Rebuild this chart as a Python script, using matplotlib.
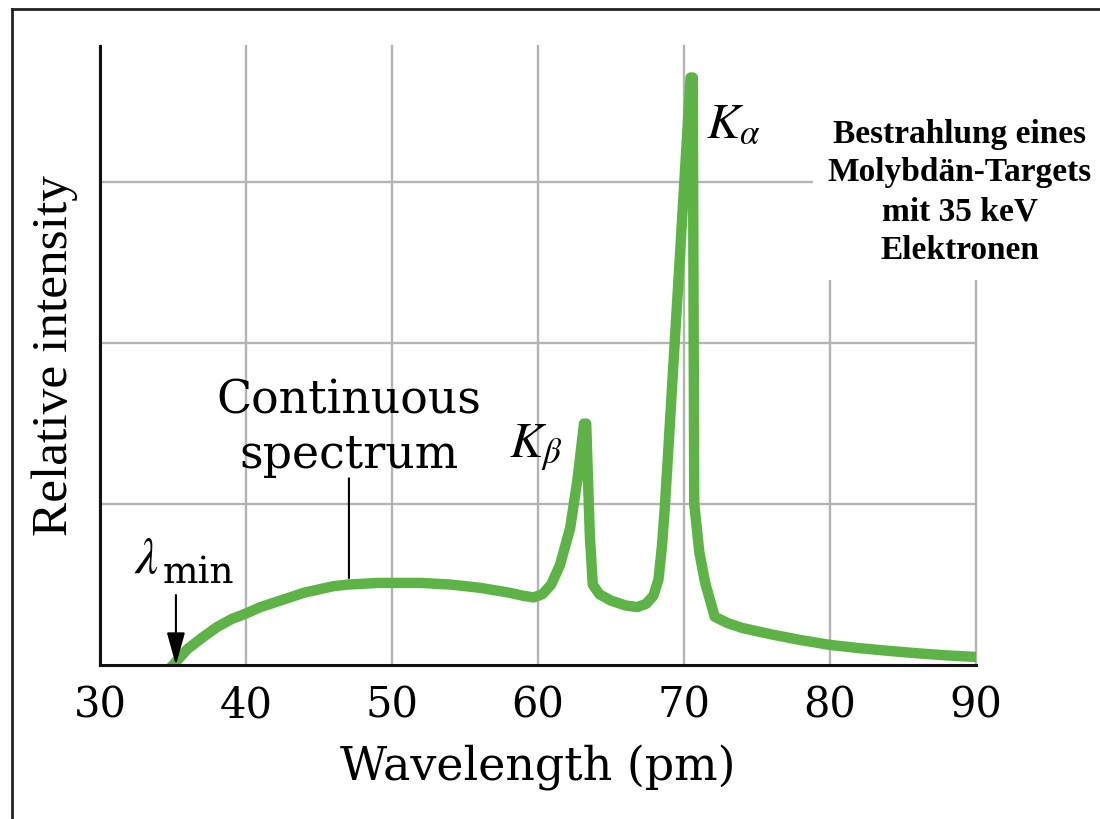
"""
X-ray spectrum of a molybdenum target.

Continuous bremsstrahlung spectrum with the characteristic K-beta and
K-alpha lines, drawn as one thick green curve.
"""

import matplotlib

matplotlib.use("Agg")
import matplotlib.pyplot as plt
from matplotlib.lines import Line2D
from matplotlib.patches import Rectangle

# wavelength in pm, intensity in grid units (gridlines at 1, 2, 3)
wavelength = [35.0, 35.5, 36.0, 37.0, 38.0, 39.0, 40.0, 41.0, 42.0, 43.0,
              44.0, 45.0, 46.0, 47.0, 48.0, 49.0, 50.0, 51.0, 52.0, 53.0,
              54.0, 55.0, 56.0, 57.0, 58.0, 59.0, 59.7, 60.3, 60.9, 61.5,
              62.2, 62.7, 63.15, 63.3, 63.55, 63.75, 64.2, 65.0, 66.0, 66.8,
              67.4, 67.9, 68.25, 68.5, 68.7, 70.45, 70.6, 70.7, 71.05, 71.45,
              72.1, 73.0, 74.0, 75.0, 76.0, 78.0, 80.0, 82.0, 84.0, 86.0,
              88.0, 90.0]
intensity = [0.0, 0.05, 0.10, 0.17, 0.235, 0.285, 0.32, 0.36, 0.39, 0.42,
             0.45, 0.47, 0.49, 0.50, 0.505, 0.51, 0.51, 0.51, 0.51, 0.505,
             0.50, 0.49, 0.48, 0.465, 0.45, 0.43, 0.42, 0.44, 0.50, 0.62,
             0.85, 1.15, 1.50, 1.50, 0.80, 0.50, 0.44, 0.40, 0.37, 0.36,
             0.38, 0.43, 0.53, 0.75, 1.00, 3.65, 3.65, 1.00, 0.70, 0.51,
             0.30, 0.26, 0.23, 0.21, 0.19, 0.155, 0.125, 0.105, 0.088, 0.073,
             0.06, 0.05]

x_ticks = [30, 40, 50, 60, 70, 80, 90]
y_grid = [1, 2, 3]
y_top = 3.845

lambda_min = 35.2
spectrum_pointer = 47.05
note_lines = ["Bestrahlung eines", "Molybdän-Targets", "mit 35 keV", "Elektronen"]

GREEN = "#5db346"
SERIF = "DejaVu Serif"
TIMES = "Liberation Serif"


def generate_spectrum_chart():
    plt.rcParams["mathtext.fontset"] = "stix"
    fig = plt.figure(figsize=(11, 8.19), dpi=100)
    ax = fig.add_axes([0.0909, 0.188, 0.7964, 0.7557])

    ax.plot(wavelength, intensity, color=GREEN, lw=7.5, zorder=4,
            solid_joinstyle="round")

    ax.set_xlim(30, 90)
    ax.set_ylim(0, y_top)
    ax.set_xticks(x_ticks)
    ax.set_xticklabels([str(t) for t in x_ticks], fontfamily=SERIF, fontsize=30)
    ax.set_yticks(y_grid)
    ax.tick_params(axis="y", left=False, labelleft=False, length=0)
    ax.tick_params(axis="x", bottom=False, length=0, pad=14)

    ax.set_axisbelow(True)
    ax.grid(True, color="#b4b4b4", lw=1.7)
    for gl in ax.get_xgridlines():
        gl.set_clip_on(False)

    for side in ("top", "right"):
        ax.spines[side].set_visible(False)
    for side in ("left", "bottom"):
        ax.spines[side].set_linewidth(2.2)
        ax.spines[side].set_color("#111111")
        ax.spines[side].set_zorder(5)

    # white patch hiding the grid behind the German note
    ax.add_patch(Rectangle((0.814, 0.622), 0.3, 0.4, transform=ax.transAxes,
                           facecolor="white", edgecolor="none", zorder=1,
                           clip_on=False))

    ax.set_xlabel("Wavelength (pm)", fontfamily=SERIF, fontsize=33, labelpad=13)
    ax.set_ylabel("Relative intensity", fontfamily=TIMES, fontsize=37, labelpad=16)

    # continuous spectrum label with pointer
    for text, y in zip(["Continuous", "spectrum"], [1.565, 1.224]):
        ax.text(spectrum_pointer, y, text, fontfamily=SERIF, fontsize=33,
                ha="center", va="baseline")
    ax.annotate("", xy=(spectrum_pointer, 0.54), xytext=(spectrum_pointer, 1.16),
                arrowprops=dict(arrowstyle="-", color="black", lw=1.5,
                                shrinkA=0, shrinkB=0))

    # lambda_min with arrow
    ax.text(32.3, 0.571, r"$\lambda$", fontsize=37, ha="left", va="baseline")
    ax.text(34.3, 0.509, "min", fontfamily=SERIF, fontsize=27, ha="left",
            va="baseline")
    ax.annotate("", xy=(lambda_min, 0.0), xytext=(lambda_min, 0.435),
                arrowprops=dict(arrowstyle="-|>,head_length=1.0,head_width=0.28",
                                mutation_scale=20, color="black", lw=1.5,
                                shrinkA=0, shrinkB=0), zorder=6)

    # characteristic lines
    ax.text(58.0, 1.29, r"$K_\beta$", fontsize=36, ha="left", va="baseline")
    ax.text(71.5, 3.28, r"$K_\alpha$", fontsize=36, ha="left", va="baseline")

    # German note
    for i, line in enumerate(note_lines):
        ax.text(88.9, 3.244 - i * 0.24, line, fontfamily=TIMES, fontsize=24,
                fontweight="bold", ha="center", va="baseline", zorder=6,
                clip_on=False)

    # outer frame (top and left only)
    fig.add_artist(Line2D([0.0109, 1.0], [0.989, 0.989], transform=fig.transFigure,
                          color="#222222", lw=2))
    fig.add_artist(Line2D([0.0109, 0.0109], [0.0, 0.989], transform=fig.transFigure,
                          color="#222222", lw=2))

    fig.savefig("out.png", dpi=100, facecolor="white")


if __name__ == "__main__":
    generate_spectrum_chart()
